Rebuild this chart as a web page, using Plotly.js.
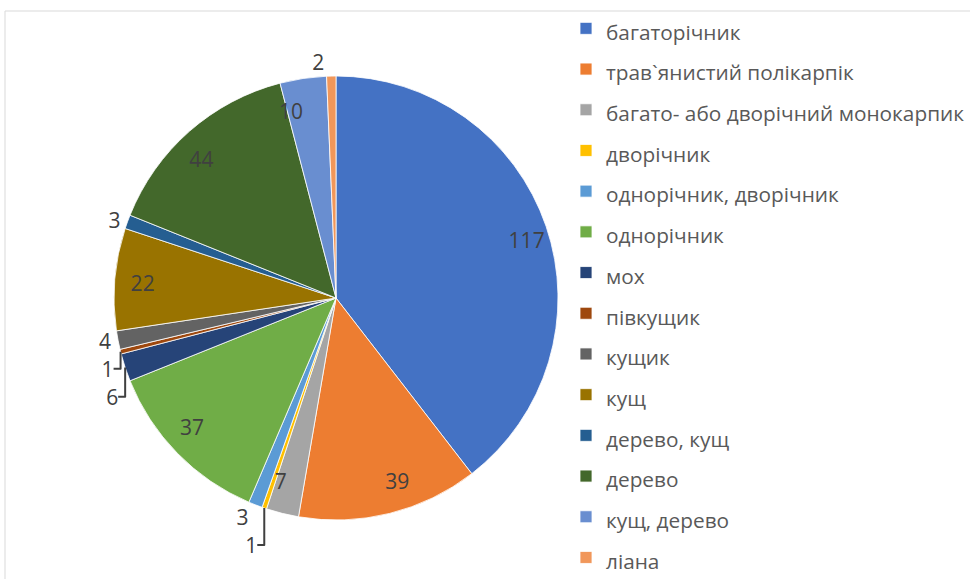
<!DOCTYPE html>
<html>
<head>
<meta charset="utf-8">
<script src="https://cdn.plot.ly/plotly-3.0.1.min.js"></script>
<style>html,body{margin:0;padding:0;background:#fff;}</style>
</head>
<body>
<div id="chart" style="width:970px;height:579px;"></div>
<script>
const categories = [
  "багаторічник",
  "трав`янистий полікарпік",
  "багато- або дворічний монокарпик",
  "дворічник",
  "однорічник, дворічник",
  "однорічник",
  "мох",
  "півкущик",
  "кущик",
  "кущ",
  "дерево, кущ",
  "дерево",
  "кущ, дерево",
  "ліана"
];
const values = [117, 39, 7, 1, 3, 37, 6, 1, 4, 22, 3, 44, 10, 2];
const colors = [
  "#4472C4", "#ED7D31", "#A5A5A5", "#FFC000", "#5B9BD5", "#70AD47",
  "#264478", "#9E480E", "#636363", "#997300", "#255E91", "#43682B",
  "#698ED0", "#F1975A"
];

const W = 970, H = 579;
const cx = 336, cy = 298, R = 222, RL = 175;
const FONT = "'Open Sans', 'DejaVu Sans', sans-serif";
const isSmall = values.map(v => v <= 6);

function domainFor(r) {
  return {
    x: [(cx - r) / W, (cx + r) / W],
    y: [(H - cy - r) / H, (H - cy + r) / H]
  };
}

const legendLabels = categories.map(c => '<span style="font-size:20.8px">' + c + '</span>');

const pieMain = {
  type: 'pie',
  labels: legendLabels,
  values: values,
  sort: false,
  direction: 'clockwise',
  rotation: 0,
  domain: domainFor(R),
  marker: { colors: colors, line: { color: '#ffffff', width: 0.8 } },
  textinfo: 'value',
  textposition: isSmall.map(s => s ? 'outside' : 'none'),
  outsidetextfont: { family: FONT, size: 21, color: '#404040' },
  hoverinfo: 'label+value',
  showlegend: true
};

const pieLabels = {
  type: 'pie',
  labels: legendLabels,
  values: values,
  sort: false,
  direction: 'clockwise',
  rotation: 0,
  domain: domainFor(RL),
  marker: { colors: values.map(() => 'rgba(0,0,0,0)'), line: { width: 0 } },
  textinfo: 'value',
  textposition: isSmall.map(s => s ? 'none' : 'outside'),
  outsidetextfont: { family: FONT, size: 21, color: '#404040' },
  hoverinfo: 'skip',
  showlegend: false
};

const layout = {
  width: W,
  height: H,
  margin: { l: 0, r: 0, t: 0, b: 0, autoexpand: false },
  paper_bgcolor: '#ffffff',
  font: { family: FONT, color: '#404040' },
  showlegend: true,
  legend: {
    x: 566 / W,
    xanchor: 'left',
    y: 1 - 3 / H,
    yanchor: 'top',
    font: { family: FONT, size: 29, color: '#595959' },
    bgcolor: 'rgba(0,0,0,0)',
    borderwidth: 0
  },
  shapes: [{
    type: 'rect', xref: 'paper', yref: 'paper',
    x0: 5 / W, x1: 1.05, y0: -0.05, y1: 1 - 11 / H,
    line: { color: '#d9d9d9', width: 1 }, fillcolor: 'rgba(0,0,0,0)'
  }]
};

Plotly.newPlot('chart', [pieMain, pieLabels], layout, { displayModeBar: false, staticPlot: true });
</script>
</body>
</html>
